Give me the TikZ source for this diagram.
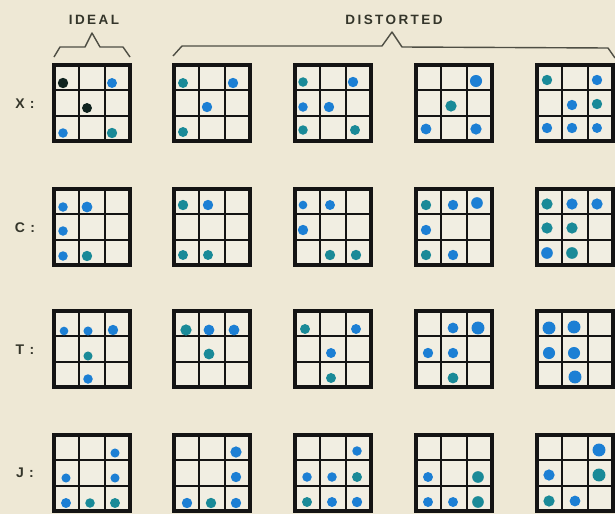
\documentclass[tikz,border=0pt]{standalone}
\usepackage{fontspec}
\newfontfamily\labfont[LetterSpace=18]{Liberation Sans Bold}
\newfontfamily\rowfont[LetterSpace=10]{Liberation Sans Bold}
\definecolor{bg}{HTML}{EEE8D5}
\definecolor{cellbg}{HTML}{F1EEE2}
\definecolor{ink}{HTML}{141414}
\definecolor{txt}{HTML}{34352A}
\definecolor{brk}{HTML}{4E4E44}
\definecolor{blu}{HTML}{1C7FD4}
\definecolor{tea}{HTML}{1A8A98}
\definecolor{blk}{HTML}{10231F}
\tikzset{
  frame/.style={draw=ink,line width=4pt},
  gridline/.style={draw=ink,line width=2.2pt},
  bracket/.style={draw=brk,line width=1.4pt,line join=round},
  headlabel/.style={font=\labfont\fontsize{13.5}{14}\selectfont,text=txt,inner sep=0pt},
  rowlabel/.style={font=\rowfont\fontsize{14}{14}\selectfont,text=txt,inner sep=0pt}
}
\newcommand\mygrid[4]{%
  \begin{scope}[shift={(#1,#2)}]
    \node[inner sep=0pt,minimum size=80pt] (#4) at (40,40) {};
    \fill[cellbg] (2,2) rectangle (78,78);
    \draw[gridline] (27.3,2) -- (27.3,78) (52.7,2) -- (52.7,78)
                    (2,27.3) -- (78,27.3) (2,52.7) -- (78,52.7);
    \draw[frame] (2,2) rectangle (78,78);
    \foreach \p/\q/\r/\c in {#3} \fill[\c] (\p,\q) circle[radius=1.08*\r pt];
  \end{scope}}
\begin{document}
\begin{tikzpicture}[x=1pt,y=-1pt]
\fill[bg] (0,0) rectangle (615,514);
\useasboundingbox (0,0) rectangle (615,514);
\clip (0,0) rectangle (615,514);

% headings
\node[headlabel] (ideal) at (94,20) {IDEAL};
\node[headlabel] (dist) at (394,20) {DISTORTED};
\draw[bracket] (54,57) -- (60,47) -- (85,47) -- (92,33) -- (100,47) -- (123,47) -- (130,57);
\draw[bracket] (173,56) -- (182,46) -- (382,46) -- (392,32) -- (402,47) -- (608,48) -- (615,58);

% row labels
\node[rowlabel] (lx) at (25,104) {X :};
\node[rowlabel] (lc) at (25,228) {C :};
\node[rowlabel] (lt) at (25,350) {T :};
\node[rowlabel] (lj) at (25,473) {J :};

% row X
\mygrid{52}{63}{11/20/4.8/blk, 60/20/4.6/blu, 35/45/4.6/blk, 11/70/4.4/blu, 60/70/4.8/tea}{gx1}
\mygrid{172}{63}{11/20/4.6/tea, 61/20/4.8/blu, 35/44/4.8/blu, 11/69/4.6/tea}{gx2}
\mygrid{293}{63}{10/19/4.4/tea, 60/19/4.8/blu, 10/44/4.4/blu, 36/44/4.8/blu, 10/67/4.4/tea, 62/67/4.6/tea}{gx3}
\mygrid{414}{63}{62/18/5.6/blu, 37/43/5.2/tea, 12/66/5/blu, 62/66/5.2/blu}{gx4}
\mygrid{535}{63}{12/17/4.8/tea, 62/17/4.8/blu, 37/42/4.8/blu, 62/41/4.8/tea, 12/65/4.8/blu, 37/65/4.8/blu, 62/65/4.6/blu}{gx5}

% row C
\mygrid{52}{187}{11/20/4.4/blu, 35/20/5/blu, 11/44/4.4/blu, 11/69/4.4/blu, 35/69/4.8/tea}{gc1}
\mygrid{172}{187}{11/18/4.8/tea, 36/18/4.8/blu, 11/68/4.6/tea, 36/68/4.6/tea}{gc2}
\mygrid{293}{187}{10/18/4/blu, 37/18/4.6/blu, 10/43/4.8/blu, 37/68/4.8/tea, 63/68/4.8/tea}{gc3}
\mygrid{414}{187}{12/18/4.8/tea, 39/18/4.8/blu, 63/16/5.4/blu, 12/43/4.8/blu, 12/68/4.8/tea, 39/68/4.8/blu}{gc4}
\mygrid{535}{187}{12/17/5.2/tea, 37/17/5.2/blu, 62/17/5.2/blu, 12/41/5.2/tea, 37/41/5.2/tea, 12/66/5.4/blu, 37/66/5.4/tea}{gc5}

% row T
\mygrid{52}{309}{12/22/4/blu, 36/22/4.2/blu, 61/21/4.8/blu, 36/47/4.2/tea, 36/70/4.4/blu}{gt1}
\mygrid{172}{309}{14/21/5.2/tea, 37/21/5/blu, 62/21/5/blu, 37/45/5/tea}{gt2}
\mygrid{293}{309}{12/20/4.6/tea, 63/20/4.6/blu, 38/44/4.6/blu, 38/69/4.6/tea}{gt3}
\mygrid{414}{309}{39/19/5/blu, 64/19/6/blu, 14/44/4.8/blu, 39/44/4.8/blu, 39/69/5/tea}{gt4}
\mygrid{535}{309}{14/19/6/blu, 39/18/6/blu, 14/44/5.6/blu, 39/44/5.6/blu, 40/68/6/blu}{gt5}

% row J
\mygrid{52}{433}{63/20/4.2/blu, 14/45/4.2/blu, 63/45/4.2/blu, 14/70/4.6/blu, 38/70/4.4/tea, 63/70/4.6/tea}{gj1}
\mygrid{172}{433}{64/19/5.2/blu, 64/44/4.8/blu, 15/70/4.8/blu, 39/70/4.8/tea, 64/70/4.8/blu}{gj2}
\mygrid{293}{433}{64/18/4.4/blu, 14/44/4.4/blu, 39/44/4.4/blu, 64/44/4.6/tea, 14/69/4.6/tea, 39/69/4.6/blu, 64/69/4.8/blu}{gj3}
\mygrid{414}{433}{14/44/4.6/blu, 64/44/5.4/tea, 14/69/4.6/blu, 39/69/4.6/blu, 64/69/5.4/tea}{gj4}
\mygrid{535}{433}{64/17/6/blu, 14/42/5.2/blu, 64/42/6/tea, 14/68/5.2/tea, 40/68/5/blu}{gj5}
\end{tikzpicture}
\end{document}
